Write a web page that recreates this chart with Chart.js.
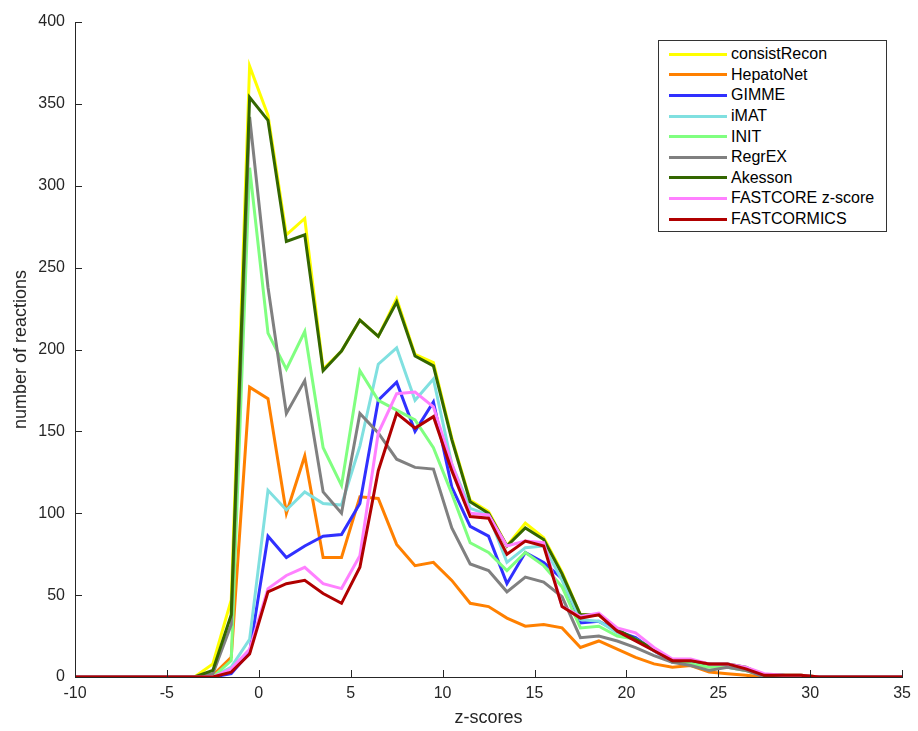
<!DOCTYPE html>
<html>
<head>
<meta charset="utf-8">
<script src="https://cdn.jsdelivr.net/npm/chart.js@4/dist/chart.umd.min.js"></script>
<style>
  body { margin: 0; background: #fff; }
  #wrap { position: relative; width: 918px; height: 731px; }
  #legend {
    position: absolute; left: 658px; top: 40px; width: 229px; height: 192px;
    border: 1px solid #333; background: #fff; box-sizing: border-box;
    padding-top: 3px; font-family: "Liberation Sans", Arial, sans-serif; font-size: 16px; color: #000;
  }
  .row { height: 20.6px; display: flex; align-items: center; }
  .swatch { width: 58px; height: 3px; margin-left: 10px; margin-right: 4px; }
</style>
</head>
<body>
<div id="wrap">
  <canvas id="zChart" width="918" height="731"></canvas>
  <div id="legend"></div>
</div>
<script>
// z-score bin centres (flat zero stretches run to the axis ends)
const zScores = [-10, -3.5, -2.5, -1.5, -0.5, 0.5, 1.5, 2.5, 3.5, 4.5, 5.5, 6.5, 7.5, 8.5, 9.5, 10.5,
  11.5, 12.5, 13.5, 14.5, 15.5, 16.5, 17.5, 18.5, 19.5, 20.5, 21.5, 22.5, 23.5, 24.5, 25.5, 26.5,
  27.5, 28.5, 29.5, 30.5, 35];

const consistRecon = [0, 0, 8, 47, 373, 343, 270, 280, 188, 199, 218, 208, 231, 197, 192, 146, 108, 101, 80, 94, 85, 64, 38, 38, 28, 23, 17, 10, 10, 8, 7, 5, 1, 1, 1, 0, 0];
const hepatoNet = [0, 0, 1, 12, 177, 170, 100, 135, 73, 73, 110, 109, 81, 68, 70, 59, 45, 43, 36, 31, 32, 30, 18, 22, 17, 12, 8, 6, 7, 3, 2, 1, 0, 0, 0, 0, 0];
const gimme = [0, 0, 0, 2, 15, 86, 73, 80, 86, 87, 106, 169, 180, 150, 168, 116, 92, 86, 57, 76, 70, 60, 33, 34, 28, 24, 16, 9, 9, 8, 6, 5, 1, 1, 0, 0, 0];
const imat = [0, 0, 0, 6, 23, 114, 102, 113, 106, 105, 141, 191, 201, 169, 182, 130, 103, 99, 70, 79, 80, 59, 35, 34, 27, 23, 16, 9, 9, 7, 6, 4, 1, 0, 0, 0, 0];
const init = [0, 0, 0, 10, 311, 210, 188, 211, 140, 117, 187, 169, 163, 157, 140, 112, 82, 76, 65, 76, 68, 55, 30, 31, 25, 23, 17, 10, 8, 6, 6, 4, 1, 0, 0, 0, 0];
const regrex = [0, 0, 2, 32, 342, 238, 161, 181, 113, 100, 161, 149, 133, 128, 127, 91, 69, 65, 52, 61, 58, 49, 24, 25, 22, 18, 13, 9, 7, 4, 6, 4, 0, 0, 0, 0, 0];
const akesson = [0, 0, 4, 38, 354, 340, 266, 270, 187, 199, 218, 208, 229, 196, 190, 145, 107, 100, 80, 91, 84, 63, 38, 38, 29, 23, 17, 10, 10, 8, 8, 6, 1, 1, 1, 0, 0];
const fastcoreZ = [0, 0, 0, 5, 17, 54, 62, 67, 57, 54, 74, 149, 173, 174, 165, 130, 100, 99, 80, 83, 82, 43, 37, 39, 30, 27, 18, 11, 11, 8, 8, 6, 2, 1, 1, 0, 0];
const fastcormics = [0, 0, 0, 3, 14, 52, 57, 59, 51, 45, 67, 126, 161, 152, 159, 126, 98, 97, 75, 83, 80, 43, 36, 38, 28, 22, 16, 10, 10, 8, 8, 5, 1, 1, 1, 0, 0];

const seriesNames = ['consistRecon', 'HepatoNet', 'GIMME', 'iMAT', 'INIT', 'RegrEX', 'Akesson', 'FASTCORE z-score', 'FASTCORMICS'];
const seriesValues = [consistRecon, hepatoNet, gimme, imat, init, regrex, akesson, fastcoreZ, fastcormics];
const seriesColors = ['#ffff00', '#ff8000', '#3030ff', '#80e0e0', '#80ff80', '#808080', '#336600', '#ff80ff', '#b00000'];

const xTicks = [-10, -5, 0, 5, 10, 15, 20, 25, 30, 35];
const yTicks = [0, 50, 100, 150, 200, 250, 300, 350, 400];

const axisColor = '#262626';
const fontFamily = '"Liberation Sans", Arial, sans-serif';

// MATLAB style: tick marks point into the plot
const inwardTicks = {
  id: 'inwardTicks',
  afterDraw(chart) {
    const { ctx, chartArea, scales } = chart;
    ctx.save();
    ctx.strokeStyle = axisColor;
    ctx.lineWidth = 1;
    ctx.beginPath();
    xTicks.forEach(v => {
      const px = Math.round(scales.x.getPixelForValue(v)) + 0.5;
      ctx.moveTo(px, chartArea.bottom);
      ctx.lineTo(px, chartArea.bottom - 7);
    });
    yTicks.forEach(v => {
      const py = Math.round(scales.y.getPixelForValue(v)) + 0.5;
      ctx.moveTo(chartArea.left, py);
      ctx.lineTo(chartArea.left + 7, py);
    });
    ctx.stroke();
    ctx.restore();
  }
};

const datasets = seriesNames.map((name, i) => ({
  label: name,
  data: zScores.map((z, k) => ({ x: z, y: seriesValues[i][k] })),
  borderColor: seriesColors[i],
  backgroundColor: seriesColors[i],
  borderWidth: 3,
  pointRadius: 0,
  tension: 0,
  fill: false,
  order: seriesNames.length - i // later series drawn on top
}));

new Chart(document.getElementById('zChart').getContext('2d'), {
  type: 'line',
  data: { datasets },
  plugins: [inwardTicks],
  options: {
    responsive: false,
    animation: false,
    layout: { padding: { top: 22, right: 13, left: 0, bottom: 0 } },
    plugins: { legend: { display: false }, tooltip: { enabled: false } },
    scales: {
      x: {
        type: 'linear',
        min: -10, max: 35,
        afterBuildTicks: s => { s.ticks = xTicks.map(v => ({ value: v })); },
        afterFit: s => { s.height = 54; },
        grid: { display: false, drawTicks: false },
        border: { display: true, color: axisColor, width: 1 },
        ticks: { color: axisColor, padding: 7, font: { family: fontFamily, size: 16 }, maxRotation: 0 },
        title: { display: true, text: 'z-scores', color: axisColor, font: { family: fontFamily, size: 18 }, padding: { top: 0, bottom: 2 } }
      },
      y: {
        min: 0, max: 400,
        afterBuildTicks: s => { s.ticks = yTicks.map(v => ({ value: v })); },
        afterFit: s => { s.width = 75; },
        grid: { display: false, drawTicks: false },
        border: { display: true, color: axisColor, width: 1 },
        ticks: { color: axisColor, padding: 10, font: { family: fontFamily, size: 16 } },
        title: { display: true, text: 'number of reactions', color: axisColor, font: { family: fontFamily, size: 18 }, padding: { top: 10, bottom: 0 } }
      }
    }
  }
});

// legend box, top right inside the axes
const legend = document.getElementById('legend');
seriesNames.forEach((name, i) => {
  const row = document.createElement('div');
  row.className = 'row';
  row.innerHTML = '<span class="swatch" style="background:' + seriesColors[i] + '"></span><span>' + name + '</span>';
  legend.appendChild(row);
});
</script>
</body>
</html>
